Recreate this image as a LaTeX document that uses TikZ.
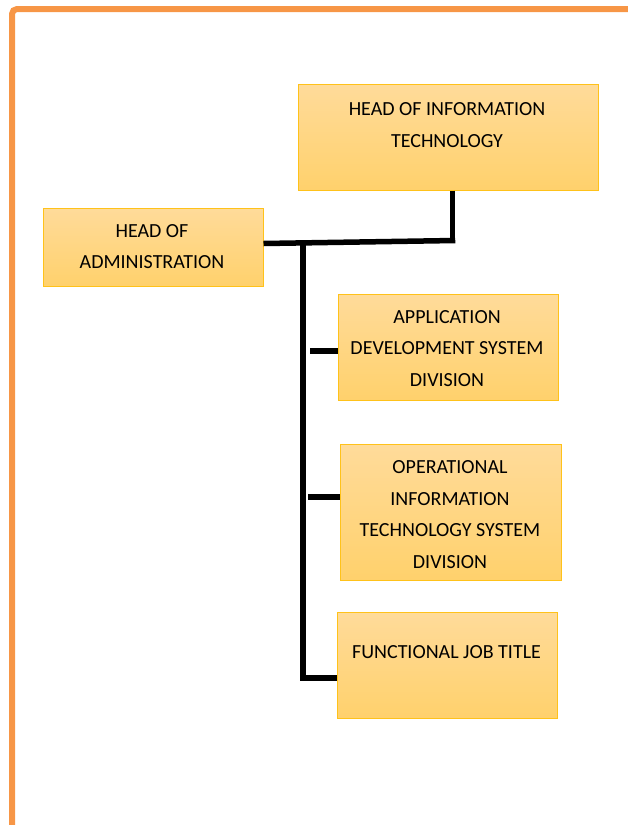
\documentclass[tikz,border=0pt]{standalone}
\usepackage{fontspec}
\setmainfont{Carlito}
\begin{document}
\begin{tikzpicture}[x=1pt,y=-1pt,
  unitbox/.style={draw=boxedge, line width=1pt, top color=boxtop, bottom color=boxbot,
    rectangle, inner sep=0pt},
  lbl/.style={align=center, font=\fontsize{20}{31.5}\selectfont, text=black, inner sep=0pt},
  link/.style={line width=5.5pt, black},
]
\definecolor{boxtop}{HTML}{FFDB9A}
\definecolor{boxbot}{HTML}{FFD16C}
\definecolor{boxedge}{HTML}{FFC21A}
\definecolor{frame}{HTML}{F79646}
\useasboundingbox (0,0) rectangle (628,825);
\begin{scope}
\clip (0,0) rectangle (628,825);
\draw[frame, line width=6pt, rounded corners=5pt] (12,830) -- (12,9) -- (640,9);
\end{scope}

% boxes
\node[unitbox, minimum width=300, minimum height=106] (hit) at (448,137) {};
\node[unitbox, minimum width=220, minimum height=78] (hoa) at (153,247) {};
\node[unitbox, minimum width=220, minimum height=106] (ads) at (448,347) {};
\node[unitbox, minimum width=221, minimum height=136] (oit) at (450.5,512) {};
\node[unitbox, minimum width=220, minimum height=106] (fjt) at (447,665) {};

% labels
\node[lbl] (thit) at (447,125) {HEAD OF INFORMATION\\TECHNOLOGY};
\node[lbl] (thoa) at (152,246.5) {HEAD OF\\ADMINISTRATION};
\node[lbl] (tads) at (447,348.5) {APPLICATION\\DEVELOPMENT SYSTEM\\DIVISION};
\node[lbl] (toit) at (450,514.5) {OPERATIONAL\\INFORMATION\\TECHNOLOGY SYSTEM\\DIVISION};
\node[lbl] (tfjt) at (446.5,652) {FUNCTIONAL JOB TITLE};

% connectors
\coordinate (bend) at (452.5,240.5);
\coordinate (trunktop) at (303,242);
\coordinate (trunkbot) at (303,680);
\draw[link] (hit.south -| bend) -- ([yshift=2.75pt]bend) ;
\draw[link] ([xshift=2.75pt]bend) -- (hoa.east |- 0,243.5);
\draw[link] (trunktop) -- (trunkbot);
\draw[link] (310,351) -- (ads.west |- 0,351);
\draw[link] (308,497) -- (oit.west |- 0,497);
\draw[link] (trunkbot) ++(-2.75,-2) -- (fjt.west |- 0,678);
\end{tikzpicture}
\end{document}
